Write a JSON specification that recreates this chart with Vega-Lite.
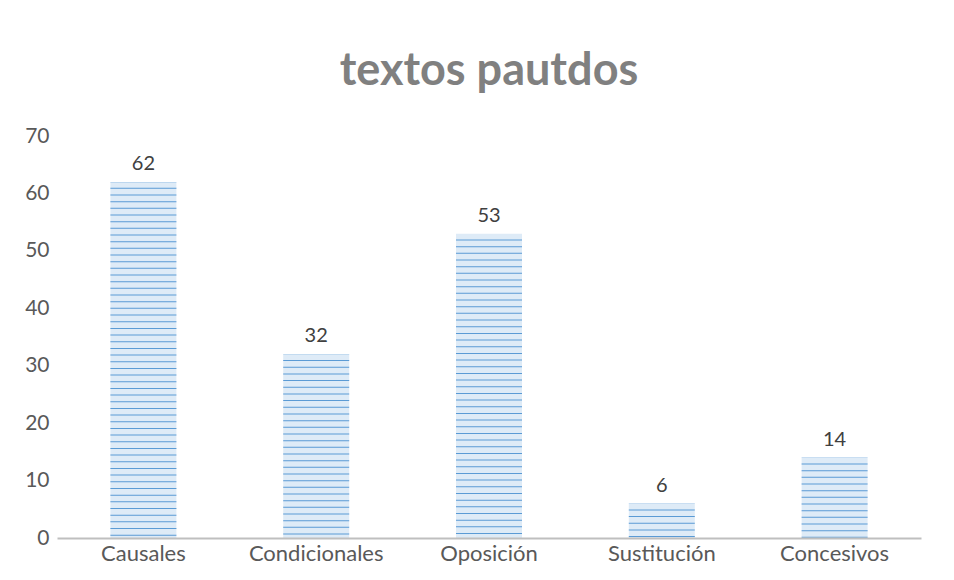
{
  "$schema": "https://vega.github.io/schema/vega-lite/v6.json",
  "autosize": "none",
  "width": 864,
  "height": 402,
  "padding": {"left": 57, "top": 136, "right": 33, "bottom": 42},
  "background": "white",
  "config": {"font": "Lato", "view": {"stroke": null}},
  "title": {
    "text": "textos pautdos",
    "anchor": "middle",
    "frame": "group",
    "fontSize": 45,
    "fontWeight": "bold",
    "color": "#808080",
    "font": "Lato",
    "offset": 31
  },
  "data": {
    "values": [
      {"categoria": "Causales", "valor": 62},
      {"categoria": "Condicionales", "valor": 32},
      {"categoria": "Oposición", "valor": 53},
      {"categoria": "Sustitución", "valor": 6},
      {"categoria": "Concesivos", "valor": 14}
    ]
  },
  "encoding": {
    "x": {
      "field": "categoria",
      "type": "nominal",
      "sort": null,
      "scale": {"paddingInner": 0, "paddingOuter": 0},
      "axis": {
        "title": null,
        "labelAngle": 0,
        "labelFontSize": 22,
        "labelColor": "#595959",
        "labelPadding": 5,
        "ticks": false,
        "domainColor": "#bfbfbf",
        "domainWidth": 2,
        "zindex": 1
      }
    }
  },
  "layer": [
    {
      "mark": {"type": "bar", "size": 66, "color": "#deebf7"},
      "encoding": {
        "y": {
          "field": "valor",
          "type": "quantitative",
          "scale": {"domain": [0, 70], "nice": false},
          "axis": {
            "title": null,
            "values": [0, 10, 20, 30, 40, 50, 60, 70],
            "grid": false,
            "domain": false,
            "ticks": false,
            "labelFontSize": 21,
            "labelColor": "#595959",
            "labelPadding": 8
          }
        }
      }
    },
    {
      "mark": {
        "type": "rule",
        "strokeWidth": 66,
        "color": "#5b9bd5",
        "strokeDash": [1, 5.67],
        "strokeDashOffset": 0.8,
        "strokeCap": "butt"
      },
      "encoding": {
        "y": {"field": "valor", "type": "quantitative"},
        "y2": {"datum": 0}
      }
    },
    {
      "mark": {"type": "text", "dy": -12, "baseline": "alphabetic", "fontSize": 20, "color": "#404040"},
      "encoding": {
        "y": {"field": "valor", "type": "quantitative"},
        "text": {"field": "valor", "type": "quantitative"}
      }
    }
  ]
}
